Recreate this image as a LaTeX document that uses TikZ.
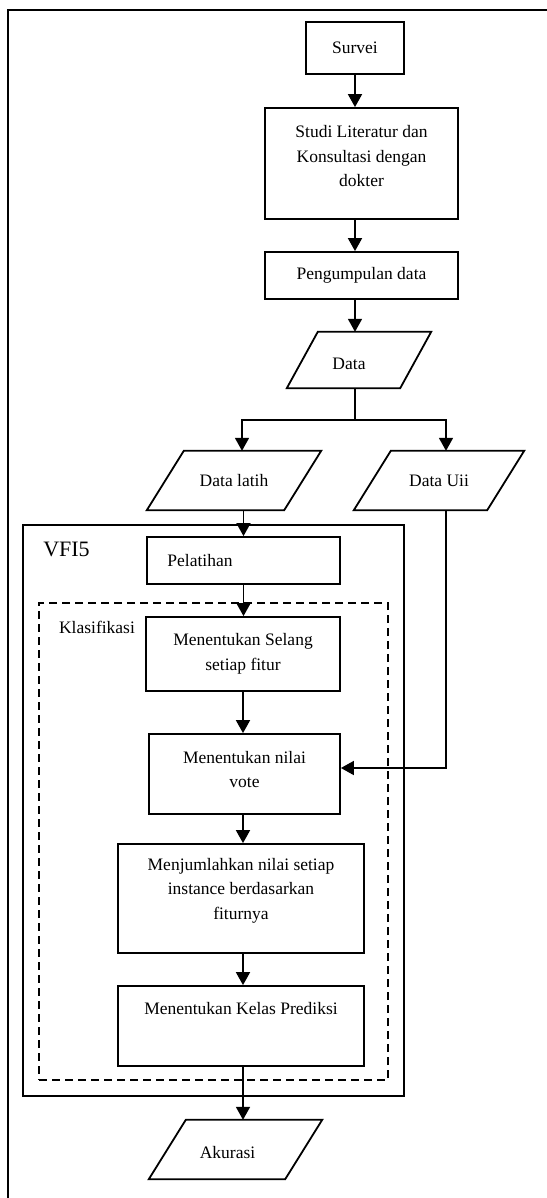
\documentclass[tikz,border=0pt]{standalone}
\usepackage{fontspec}
\setmainfont{Liberation Serif}
\usetikzlibrary{arrows.meta,calc}
\newcommand{\iodraw}[2]{\draw[ln] ([xshift=#2pt]#1.north west) -- ([xshift=#2pt]#1.north east) -- ([xshift=-#2pt]#1.south east) -- ([xshift=-#2pt]#1.south west) -- cycle;}
\begin{document}
\begin{tikzpicture}[x=1pt,y=-1pt,
  txtfont/.style={font=\fontsize{17.5}{24.5}\selectfont},
  every node/.style={txtfont, inner sep=0pt},
  every label/.style={txtfont, align=center, inner sep=0pt},
  box/.style={draw, line width=1.8pt, align=center},
  io/.style={align=center},
  ln/.style={line width=1.8pt},
  arr/.style={line width=1.8pt, -{Triangle[length=13pt,width=14pt]}}]
\useasboundingbox (0,0) rectangle (546,1198);
\fill[white] (0,0) rectangle (546,1198);
% outer frame
\draw[line width=1.5pt] (8,1202) -- (8,10) -- (550,10);
% containers
\node[draw, line width=1.8pt, minimum width=381pt, minimum height=571pt] (vfi) at (213.5,810.5) {};
\node[draw, line width=1.6pt, dash pattern=on 8pt off 5pt, minimum width=349pt, minimum height=477pt] (klas) at (213.5,841.5) {};
\node[font=\fontsize{22}{26}\selectfont] (vfit) at (66.5,549) {VFI5};
\node (klast) at (97,627) {Klasifikasi};
% process boxes
\node[box, minimum width=98pt, minimum height=52pt] (survei) at (355,48) {Survei};
\node[box, minimum width=193pt, minimum height=111pt, label={[yshift=7pt]center:Studi Literatur dan\\Konsultasi dengan\\dokter}] (studi) at (361.5,163.5) {};
\node[box, minimum width=193pt, minimum height=47pt] (peng) at (361.5,275.5) {Pengumpulan data};
\node[box, minimum width=193pt, minimum height=47pt, label={[xshift=-43.5pt]center:Pelatihan}] (pel) at (243.5,560.5) {};
\node[box, minimum width=194pt, minimum height=74pt] (selang) at (243,654) {Menentukan Selang\\setiap fitur};
\node[box, minimum width=191pt, minimum height=80pt, label={[yshift=4.5pt]center:Menentukan nilai\\vote}] (vote) at (244.5,774) {};
\node[box, minimum width=246pt, minimum height=109pt, label={[yshift=8pt]center:Menjumlahkan nilai setiap\\instance berdasarkan\\fiturnya}] (jumlah) at (241,898.5) {};
\node[box, minimum width=246pt, minimum height=80pt, label={[yshift=17pt]center:Menentukan Kelas Prediksi}] (kelas) at (241,1026) {};
% input/output
\node[io, minimum width=113pt, minimum height=56pt, label={[xshift=-10pt,yshift=-4pt]center:Data}] (data) at (359,360) {};
\node[io, minimum width=137pt, minimum height=59pt] (dlatih) at (234,480.5) {Data latih};
\node[io, minimum width=133pt, minimum height=59pt] (duji) at (439,480.5) {Data Uii};
\node[io, minimum width=136pt, minimum height=59pt, label={[xshift=-8pt,yshift=-3pt]center:Akurasi}] (akurasi) at (235.5,1149.5) {};
\iodraw{data}{15.5}
\iodraw{dlatih}{18.5}
\iodraw{duji}{18.5}
\iodraw{akurasi}{18.5}
% connectors
\coordinate (br) at (355,420);
\draw[arr] (survei.south) -- (survei.south |- studi.north);
\draw[arr] (studi.south -| survei.south) -- (survei.south |- peng.north);
\draw[arr] (peng.south -| survei.south) -- (survei.south |- data.north);
\draw[ln] (data.south -| br) -- (br);
\draw[arr] (br) -| ([xshift=8pt]dlatih.north);
\draw[arr] (br) -| ([xshift=7pt]duji.north);
\draw[arr] (dlatih.south -| pel.north) -- (pel.north);
\draw[arr] (pel.south) -- (pel.south |- selang.north);
\draw[arr] (selang.south) -- (selang.south |- vote.north);
\draw[arr] (vote.south -| selang.south) -- (selang.south |- jumlah.north);
\draw[arr] (jumlah.south -| selang.south) -- (selang.south |- kelas.north);
\draw[arr] (kelas.south -| selang.south) -- (selang.south |- akurasi.north);
\draw[arr] ([xshift=7pt]duji.south) |- ([yshift=6pt]vote.east);
\end{tikzpicture}
\end{document}
